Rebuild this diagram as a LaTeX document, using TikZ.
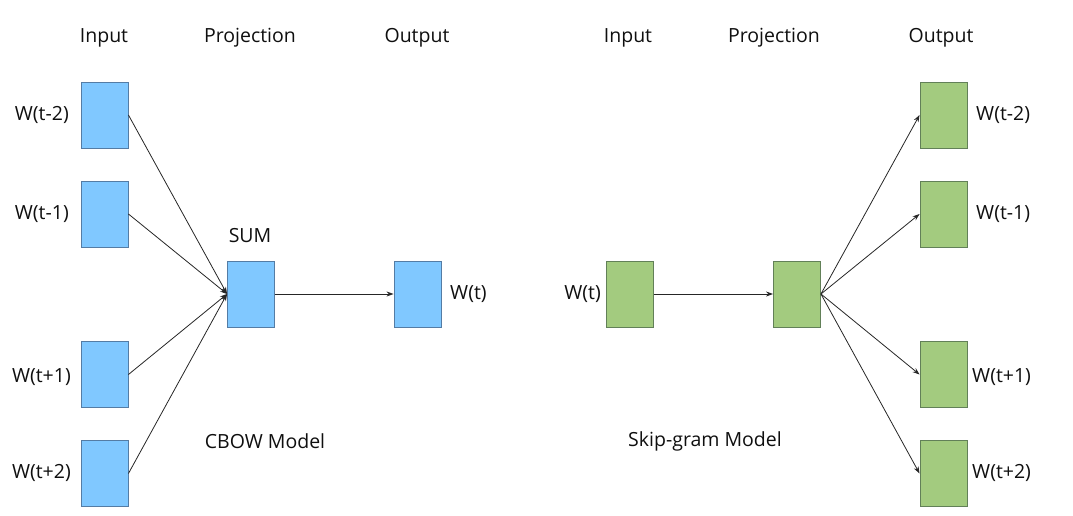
\documentclass[tikz,border=0pt]{standalone}
\usepackage{fontspec}
\setmainfont{Open Sans}
\usetikzlibrary{arrows.meta}
\definecolor{bfill}{RGB}{128,200,255}
\definecolor{bdraw}{RGB}{84,124,164}
\definecolor{gfill}{RGB}{163,203,127}
\definecolor{gdraw}{RGB}{98,128,88}
\definecolor{txt}{RGB}{15,15,15}
\tikzset{
  vec/.style={draw, line width=0.9pt, minimum width=47pt, minimum height=66pt, inner sep=0pt},
  bvec/.style={vec, fill=bfill, draw=bdraw},
  gvec/.style={vec, fill=gfill, draw=gdraw},
  lbl/.style={text=txt, font=\fontsize{19.5}{22}\selectfont, inner sep=0pt},
  conn/.style={draw=black!85, line width=0.8pt},
  arr/.style={conn, -{Stealth[length=7pt,width=5pt]}}
}
\begin{document}
\begin{tikzpicture}[x=1pt,y=-1pt]
\useasboundingbox (0,0) rectangle (1073,516);
% CBOW
\node[lbl] (hin1) at (104,38) {Input};
\node[lbl] (hpr1) at (250,38) {Projection};
\node[lbl] (hout1) at (417,38) {Output};
\node[bvec] (i1) at (104.5,115) {};
\node[bvec] (i2) at (104.5,214) {};
\node[bvec] (i3) at (104.5,374.5) {};
\node[bvec] (i4) at (104.5,473.5) {};
\node[lbl, anchor=east] (li1) at (69,115) {W(t-2)};
\node[lbl, anchor=east] (li2) at (69,214) {W(t-1)};
\node[lbl, anchor=east] (li3) at (71,377) {W(t+1)};
\node[lbl, anchor=east] (li4) at (71,473) {W(t+2)};
\node[bvec] (sum) at (251,294) {};
\node[lbl] (sumlbl) at (250,236) {SUM};
\node[bvec] (o1) at (417.5,294) {};
\node[lbl, anchor=west] (lo1) at (450,294) {W(t)};
\node[lbl] (cbow) at (265,441) {CBOW Model};
\foreach \n in {i1,i2,i3,i4} \draw[arr] (\n.east) -- (sum.west);
\draw[arr] (sum.east) -- (o1.west);
% Skip-gram
\node[lbl] (hin2) at (628,38) {Input};
\node[lbl] (hpr2) at (774,38) {Projection};
\node[lbl] (hout2) at (941,38) {Output};
\node[gvec] (w) at (630,294) {};
\node[lbl, anchor=east] (lw) at (601,294) {W(t)};
\node[gvec] (proj) at (797,294) {};
\node[gvec] (g1) at (943.5,115) {};
\node[gvec] (g2) at (943.5,214) {};
\node[gvec] (g3) at (943.5,374.5) {};
\node[gvec] (g4) at (943.5,473.5) {};
\node[lbl, anchor=west] (lg1) at (976,115) {W(t-2)};
\node[lbl, anchor=west] (lg2) at (976,214) {W(t-1)};
\node[lbl, anchor=west] (lg3) at (972,377) {W(t+1)};
\node[lbl, anchor=west] (lg4) at (972,473) {W(t+2)};
\node[lbl] (skip) at (705,441) {Skip-gram Model};
\draw[arr] (w.east) -- (proj.west);
\foreach \n in {g1,g2,g3,g4} \draw[arr] (proj.east) -- (\n.west);
\end{tikzpicture}
\end{document}
